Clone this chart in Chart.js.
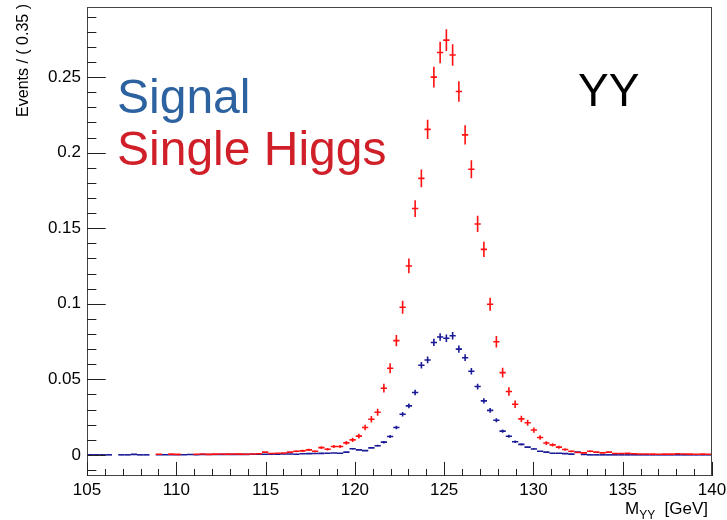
<!DOCTYPE html>
<html>
<head>
<meta charset="utf-8">
<script src="https://cdn.jsdelivr.net/npm/chart.js@4/dist/chart.umd.min.js"></script>
<style>
html, body { margin: 0; padding: 0; background: #fff; }
</style>
</head>
<body>
<canvas id="massChart" width="727" height="520"></canvas>
<script>
/*******  Binning & data ******/
var binLow = 105, binWidth = 0.35;   // 100 bins, 105 -> 140 GeV

var signal = [
  0, 0, 0, 0, null, 0, 0, 0.0003, 0, 0,
  null, 0.0001, 0.0001, 0.0001, 0.0001, 0.0001, 0.0002, 0.0001, 0.0002, 0.0002,
  0.0002, 0.0002, 0.0003, 0.0002, 0.0003, 0.0003, 0.0004, 0.0004, 0.0004, 0.0005,
  0.0005, 0.0006, 0.0006, 0.0004, 0.0007, 0.0008, 0.0009, 0.0010, 0.0011, 0.0012,
  0.0011, 0.0018, 0.0040, 0.0033, 0.0028, 0.0046, 0.0060, 0.0084, 0.0121, 0.0181,
  0.0269, 0.0324, 0.0413, 0.0593, 0.0628, 0.0744, 0.0780, 0.0772, 0.0788, 0.0700,
  0.0643, 0.0553, 0.0452, 0.0357, 0.0294, 0.0229, 0.0157, 0.0123, 0.0087, 0.0069,
  0.0051, 0.0039, 0.0024, 0.0018, 0.0011, 0.0011, 0.0008, 0.0005, 0.0018, 0.0003,
  0, 0, 0, 0, 0, 0, 0, 0, 0, 0,
  0, 0, 0, 0, 0, 0, 0, 0, 0, 0
];

var singleHiggs = [
  null, null, null, null, null, null, null, null, null, null,
  null, 0.0004, null, 0.0005, 0.0003, null, null, 0.0004, 0.0006, 0.0003,
  0.0005, 0.0006, 0.0005, 0.0006, 0.0005, 0.0004, 0.0006, 0.0007, 0.0018, 0.0009,
  0.0011, 0.0012, 0.0018, 0.0024, 0.0026, 0.0033, 0.0024, 0.0048, 0.0037, 0.0055,
  0.0055, 0.0079, 0.0099, 0.0124, 0.0181, 0.0236, 0.0282, 0.0441, 0.0573, 0.0756,
  0.0977, 0.1250, 0.1630, 0.1830, 0.2154, 0.2500, 0.2663, 0.2745, 0.2646, 0.2405,
  0.2118, 0.1890, 0.1528, 0.1360, 0.0997, 0.0749, 0.0544, 0.0419, 0.0335, 0.0238,
  0.0212, 0.0164, 0.0115, 0.0078, 0.0066, 0.0051, 0.0035, 0.0024, 0.0016, 0.0013,
  0.0024, 0.0018, 0.0013, 0.0018, 0.0009, 0.0009, 0.0010, 0.0007, 0.0006, 0.0006,
  0.0005, 0.0004, 0.0005, 0.0005, 0.0007, 0.0006, 0.0005, 0.0004, 0.0005, 0.0004
];

// per-event weights -> stat. error = sqrt(sum w^2) ~ sqrt(content * w)
var signalWeight = 8e-5;
var higgsWeight = 1.9e-4;

var xTicks = [105, 110, 115, 120, 125, 130, 135, 140];
var yTicks = [0, 0.05, 0.1, 0.15, 0.2, 0.25];
var yTickLabels = ['0', '0.05', '0.1', '0.15', '0.2', '0.25'];
var seriesNames = ['Signal', 'Single Higgs'];
var channel = 'YY';

/*******  build points ******/
function toPoints(values, weight) {
  var pts = [];
  values.forEach(function (v, i) {
    if (v === null) return;
    pts.push({ x: binLow + binWidth * (i + 0.5), y: v, err: Math.sqrt(v * weight) });
  });
  return pts;
}

var FONT = '"Liberation Sans", Arial, Helvetica, sans-serif';

/*******  ROOT style frame, ticks, error bars ******/
var rootStyle = {
  id: 'rootStyle',
  afterDatasetsDraw: function (chart) {
    var ctx = chart.ctx, xs = chart.scales.x, ys = chart.scales.y, a = chart.chartArea;
    ctx.save();

    // error bar crosses
    ctx.save();
    ctx.beginPath();
    ctx.rect(a.left, a.top, a.right - a.left, a.bottom - a.top);
    ctx.clip();
    chart.data.datasets.forEach(function (ds) {
      ctx.strokeStyle = ds.borderColor;
      ctx.lineWidth = 1.6;
      ds.data.forEach(function (p) {
        var x0 = xs.getPixelForValue(p.x - binWidth / 2);
        var x1 = xs.getPixelForValue(p.x + binWidth / 2);
        var xc = xs.getPixelForValue(p.x);
        var yc = ys.getPixelForValue(p.y);
        ctx.beginPath();
        ctx.moveTo(x0, yc); ctx.lineTo(x1, yc);
        if (p.err > 0) {
          ctx.moveTo(xc, ys.getPixelForValue(p.y - p.err));
          ctx.lineTo(xc, ys.getPixelForValue(p.y + p.err));
        }
        ctx.stroke();
      });
    });
    ctx.restore();

    // frame
    ctx.strokeStyle = '#444';
    ctx.lineWidth = 1;
    ctx.strokeRect(Math.round(a.left) + 0.5, Math.round(a.top) + 0.5,
                   Math.round(a.right - a.left) - 1, Math.round(a.bottom - a.top) - 1);

    // y ticks (inside, left)
    ctx.strokeStyle = '#222';
    var yLen = 0.03 * (a.right - a.left);
    for (var k = -1; k <= 29; k++) {
      var v = k * 0.01;
      var py = Math.round(ys.getPixelForValue(v)) + 0.5;
      if (py < a.top || py > a.bottom) continue;
      var len = (k % 5 === 0) ? yLen : yLen / 2;
      ctx.beginPath(); ctx.moveTo(a.left, py); ctx.lineTo(a.left + len, py); ctx.stroke();
    }
    // x ticks (inside, bottom)
    var xLen = 0.03 * (a.bottom - a.top);
    for (var m = 105; m <= 140; m++) {
      var px = Math.round(xs.getPixelForValue(m)) + 0.5;
      var l2 = (m % 5 === 0) ? xLen : xLen / 2;
      ctx.beginPath(); ctx.moveTo(px, a.bottom); ctx.lineTo(px, a.bottom - l2); ctx.stroke();
    }

    // tick labels
    ctx.fillStyle = '#000';
    ctx.font = '17px ' + FONT;
    ctx.textAlign = 'right';
    ctx.textBaseline = 'middle';
    yTicks.forEach(function (t, i) {
      ctx.fillText(yTickLabels[i], a.left - 6, ys.getPixelForValue(t));
    });
    ctx.textAlign = 'center';
    ctx.textBaseline = 'top';
    xTicks.forEach(function (t) {
      ctx.fillText(String(t), xs.getPixelForValue(t), a.bottom + 6);
    });

    // axis titles
    ctx.save();
    ctx.translate(28, 4);
    ctx.rotate(-Math.PI / 2);
    ctx.textAlign = 'right';
    ctx.textBaseline = 'alphabetic';
    ctx.font = '16px ' + FONT;
    ctx.fillText('Events / ( 0.35 )', 0, 0);
    ctx.restore();

    ctx.textAlign = 'left';
    ctx.textBaseline = 'alphabetic';
    var tx = 625, ty = 514;
    ctx.font = '17px ' + FONT;
    ctx.fillText('M', tx, ty);
    tx += ctx.measureText('M').width;
    ctx.font = '12px ' + FONT;
    ctx.fillText('YY', tx, ty + 5);
    tx += ctx.measureText('YY').width;
    ctx.font = '17px ' + FONT;
    ctx.fillText('  [GeV]', tx, ty);

    // labels in the pad
    ctx.font = '48px ' + FONT;
    ctx.fillStyle = '#2c62a0';
    ctx.fillText(seriesNames[0], 117, 113);
    ctx.fillStyle = '#d01f28';
    ctx.fillText(seriesNames[1], 117, 165);
    ctx.fillStyle = '#000';
    ctx.font = '46px ' + FONT;
    ctx.fillText(channel, 578, 106);

    ctx.restore();
  }
};

var ctx = document.getElementById('massChart');
var massChart = new Chart(ctx, {
  type: 'scatter',
  data: {
    datasets: [
      { label: seriesNames[0], data: toPoints(signal, signalWeight), borderColor: '#1a1a96', pointRadius: 0 },
      { label: seriesNames[1], data: toPoints(singleHiggs, higgsWeight), borderColor: '#ff1010', pointRadius: 0 }
    ]
  },
  options: {
    responsive: false,
    animation: false,
    layout: { padding: { left: 87, right: 15, top: 7, bottom: 44 } },
    plugins: { legend: { display: false }, tooltip: { enabled: false } },
    scales: {
      x: { type: 'linear', min: 105, max: 140, display: false },
      y: { type: 'linear', min: -0.014, max: 0.2964, display: false }
    }
  },
  plugins: [rootStyle]
});
</script>
</body>
</html>
